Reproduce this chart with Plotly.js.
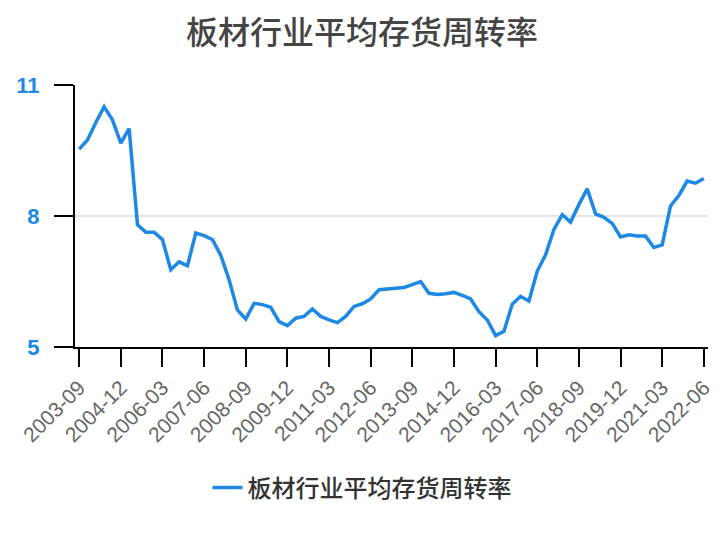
<!DOCTYPE html>
<html>
<head>
<meta charset="utf-8">
<script src="https://cdn.plot.ly/plotly-3.0.1.min.js"></script>
<style>html,body{margin:0;padding:0;background:#fff;}#chart{width:724px;height:540px;}</style>
</head>
<body>
<div id="chart"></div>
<script>
var quarters = [
  "2003-09","2003-12","2004-03","2004-06","2004-09","2004-12","2005-03","2005-06","2005-09","2005-12",
  "2006-03","2006-06","2006-09","2006-12","2007-03","2007-06","2007-09","2007-12","2008-03","2008-06",
  "2008-09","2008-12","2009-03","2009-06","2009-09","2009-12","2010-03","2010-06","2010-09","2010-12",
  "2011-03","2011-06","2011-09","2011-12","2012-03","2012-06","2012-09","2012-12","2013-03","2013-06",
  "2013-09","2013-12","2014-03","2014-06","2014-09","2014-12","2015-03","2015-06","2015-09","2015-12",
  "2016-03","2016-06","2016-09","2016-12","2017-03","2017-06","2017-09","2017-12","2018-03","2018-06",
  "2018-09","2018-12","2019-03","2019-06","2019-09","2019-12","2020-03","2020-06","2020-09","2020-12",
  "2021-03","2021-06","2021-09","2021-12","2022-03","2022-06"
];
var turnover = [
  9.53, 9.74, 10.14, 10.50, 10.20, 9.67, 10.00, 7.80, 7.63, 7.63,
  7.46, 6.77, 6.95, 6.86, 7.61, 7.55, 7.46, 7.10, 6.54, 5.85,
  5.64, 6.00, 5.97, 5.91, 5.58, 5.49, 5.66, 5.70, 5.87, 5.70,
  5.62, 5.56, 5.70, 5.93, 5.99, 6.10, 6.31, 6.33, 6.33, 6.36,
  6.43, 6.50, 6.23, 6.20, 6.22, 6.25, 6.18, 6.10, 5.81, 5.62,
  5.26, 5.36, 5.98, 6.16, 6.05, 6.74, 7.11, 7.69, 8.03, 7.86,
  8.26, 8.62, 8.05, 7.97, 7.83, 7.52, 7.57, 7.54, 7.54, 7.28,
  7.34, 8.23, 8.47, 8.80, 8.75, 8.86
];
var xTickLabels = ["2003-09","2004-12","2006-03","2007-06","2008-09","2009-12","2011-03","2012-06",
  "2013-09","2014-12","2016-03","2017-06","2018-09","2019-12","2021-03","2022-06"];
var yTickValues = [5, 8, 11];
var seriesName = "板材行业平均存货周转率";
var chartTitle = "板材行业平均存货周转率";

var trace = {
  x: quarters,
  y: turnover,
  type: "scatter",
  mode: "lines",
  name: seriesName,
  line: {color: "#1e88e5", width: 3.5}
};

var layout = {
  width: 724,
  height: 540,
  margin: {l: 75, r: 16, t: 85, b: 193},
  paper_bgcolor: "#ffffff",
  plot_bgcolor: "#ffffff",
  title: {
    text: chartTitle,
    x: 0.5, xref: "container", xanchor: "center",
    y: 1 - 33/540, yref: "container", yanchor: "middle",
    font: {family: "Noto Sans CJK SC", size: 32, color: "#444444", weight: 500}
  },
  xaxis: {
    type: "category",
    range: [-0.5, 75.5],
    tickmode: "array",
    tickvals: xTickLabels,
    ticktext: xTickLabels,
    tickangle: -45,
    ticks: "outside",
    ticklen: 18,
    tickwidth: 2,
    tickcolor: "#000000",
    showline: true,
    linecolor: "#000000",
    linewidth: 2,
    showgrid: false,
    zeroline: false,
    tickfont: {family: "Liberation Sans", size: 21, color: "#666666"}
  },
  yaxis: {
    range: [5, 11],
    tickmode: "array",
    tickvals: yTickValues,
    ticktext: yTickValues.map(String),
    ticks: "outside",
    ticklen: 19,
    tickwidth: 2,
    tickcolor: "#000000",
    showline: true,
    linecolor: "#000000",
    linewidth: 2,
    showgrid: true,
    gridcolor: "#e5e5e5",
    gridwidth: 2,
    zeroline: false,
    ticklabelstandoff: 10,
    tickfont: {family: "Liberation Sans", size: 22, color: "#1e88e5", weight: "bold"}
  },
  showlegend: true,
  legend: {
    orientation: "h",
    x: 0.5, xref: "container", xanchor: "center",
    y: 1 - 488/540, yref: "container", yanchor: "middle",
    font: {family: "Noto Sans CJK SC", size: 24, color: "#333333", weight: 500}
  }
};

Plotly.newPlot("chart", [trace], layout, {displayModeBar: false, staticPlot: true});
</script>
</body>
</html>
